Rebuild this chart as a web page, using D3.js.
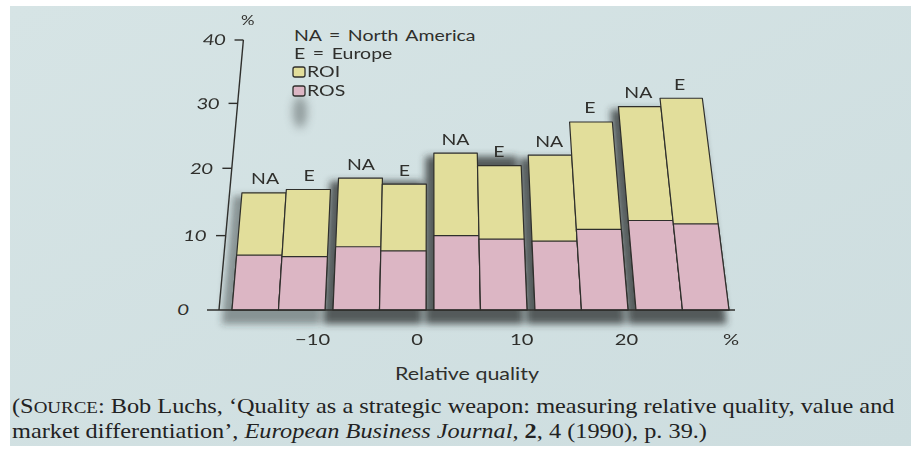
<!DOCTYPE html>
<html><head><meta charset="utf-8">
<script src="https://cdn.jsdelivr.net/npm/d3@7"></script>
<style>html,body{margin:0;padding:0;background:#fff}svg{display:block}</style>
</head><body>
<svg id="chart" width="911" height="451"></svg>
<script>
// Relative-quality bands (edges in %) and the two regions compared in each band
const binEdges = [-20, -10, 0, 10, 20, 30];
const regions = ["NA", "E"];
// Return on investment (full bar) and return on sales (lower bar), %
const roiNA = [16.3, 18.5, 22.3, 22.0, 29.5];
const roiE  = [16.8, 17.6, 20.4, 27.1, 30.8];
const rosNA = [7.2, 8.4, 10.0, 9.2, 12.2];
const rosE  = [7.0, 7.8, 9.5, 10.9, 11.7];
const yTicks = [0, 10, 20, 30, 40];
const xTicks = [-10, 0, 10, 20];
const xTickLabels = ["\u221210", "0", "10", "20"];
const legendLines = ["NA = North America", "E = Europe"];
const legendKeys = ["ROI", "ROS"];

const svg = d3.select("#chart");
const ink = "#2f2f2c";
const colROI = "#e2de9b", colROS = "#dcb6c4";
const sans = "Lato, 'Open Sans', sans-serif";
const wide = 1.3; // horizontal stretch of the humanist sans lettering

// page tint and blur filters
const defs = svg.append("defs");
const bg = defs.append("linearGradient").attr("id", "bg").attr("x1", 0).attr("y1", 0).attr("x2", 1).attr("y2", 1);
bg.append("stop").attr("offset", 0).attr("stop-color", "#d6e4e5");
bg.append("stop").attr("offset", 1).attr("stop-color", "#cddddf");
defs.append("filter").attr("id", "soft").attr("x", "-20%").attr("y", "-20%").attr("width", "140%").attr("height", "140%")
  .append("feGaussianBlur").attr("stdDeviation", 3.5);
defs.append("filter").attr("id", "softer").attr("x", "-80%").attr("y", "-50%").attr("width", "260%").attr("height", "200%")
  .append("feGaussianBlur").attr("stdDeviation", 5);
svg.append("rect").attr("x", 10).attr("y", 6).attr("width", 901).attr("height", 440).attr("fill", "url(#bg)");

// scales
const x = d3.scaleLinear().domain([-20, 30]).range([228, 733]);
const y = d3.scalePow().exponent(0.93).domain([0, 40]).range([310, 40]);
const labelX = x.copy().range([208, 731]);
const baseY = y(0);

// slight keystone: verticals lean toward a centre line as they rise
const vx = 432, k = 0.000424;
const proj = (px, py) => [px - (px - vx) * k * (baseY - py), py];
const quad = (x0, x1, y0, y1) => {
  const p = [proj(x0, y0), proj(x1, y0), proj(x1, y1), proj(x0, y1)];
  return "M" + p.map(d => d.join(",")).join("L") + "Z";
};

// stretched sans label helper
function label(sel, px, py, txt, size, anchor, skew) {
  return sel.append("text")
    .attr("transform", `translate(${px},${py}) scale(${wide},1)` + (skew ? ` skewX(${skew})` : ""))
    .attr("text-anchor", anchor || "start").attr("dy", "0.36em")
    .attr("font-family", sans).attr("font-size", size).attr("fill", ink).text(txt);
}

// group layout
const groups = d3.range(binEdges.length - 1).map(i => ({
  i,
  x0: x(binEdges[i]) + 4,
  x1: x(binEdges[i + 1]) - 4,
  bars: [
    { region: "NA", roi: roiNA[i], ros: rosNA[i] },
    { region: "E", roi: roiE[i], ros: rosE[i] }
  ]
}));

// shadows cast to the left of each group and below the baseline
svg.append("g").attr("filter", "url(#soft)")
  .selectAll("path").data(groups).join("path")
  .attr("d", g => quad(g.x0 - 9, g.x1 - 4, baseY + 14, y(g.bars[0].roi) + 3))
  .attr("fill", "#2f3636").attr("opacity", (g, i) => i === 0 ? 0.45 : 0.78);

// blurred smudge beneath the legend
svg.append("ellipse").attr("cx", 300).attr("cy", 112).attr("rx", 7).attr("ry", 16)
  .attr("fill", "#4d5555").attr("opacity", 0.5).attr("filter", "url(#softer)");

// bars
const gBars = svg.append("g");
groups.forEach(g => {
  const sub = d3.scaleBand().domain(regions).range([g.x0, g.x1]);
  g.bars.forEach(b => {
    const bx0 = sub(b.region), bx1 = bx0 + sub.bandwidth();
    gBars.append("path").attr("d", quad(bx0, bx1, baseY, y(b.roi)))
      .attr("fill", colROI).attr("stroke", ink).attr("stroke-width", 1.2).attr("stroke-linejoin", "round");
    gBars.append("path").attr("d", quad(bx0, bx1, baseY, y(b.ros)))
      .attr("fill", colROS).attr("stroke", ink).attr("stroke-width", 1.2).attr("stroke-linejoin", "round");
    const [lx, ly] = proj((bx0 + bx1) / 2, y(b.roi) - 14);
    label(gBars, lx, ly, b.region, 15, "middle");
  });
});

// y axis
const axisX = 219;
const yAx = svg.append("g");
const [ax0, ay0] = proj(axisX, baseY), [ax1, ay1] = proj(axisX, y(40));
yAx.append("line").attr("x1", ax0).attr("y1", ay0).attr("x2", ax1).attr("y2", ay1)
  .attr("stroke", ink).attr("stroke-width", 1.4);
yTicks.filter(v => v > 0).forEach(v => {
  const [t0x, t0y] = proj(axisX - 10, y(v)), [t1x, t1y] = proj(axisX, y(v));
  yAx.append("line").attr("x1", t0x).attr("y1", t0y).attr("x2", t1x).attr("y2", t1y)
    .attr("stroke", ink).attr("stroke-width", 1.4);
});
yTicks.forEach(v => {
  const [tx, ty] = proj(axisX - 20 - (v === 0 ? 10 : 0), y(v));
  label(yAx, tx, ty, v, 15, "end", -5);
});
{
  const [px, py] = proj(axisX + 3, y(40) - 20);
  label(yAx, px, py, "%", 13, "middle");
}

// baseline
svg.append("line").attr("x1", 207).attr("y1", baseY).attr("x2", x(30) + 2).attr("y2", baseY)
  .attr("stroke", ink).attr("stroke-width", 1.5);

// x tick labels at band edges
const xAx = svg.append("g");
xTicks.forEach((v, i) => label(xAx, labelX(v), 339, xTickLabels[i], 15.5, "middle"));
label(xAx, labelX(30), 339, "%", 15.5, "middle");
label(svg, 467, 374, "Relative quality", 16.5, "middle");

// legend
const lg = svg.append("g");
legendLines.forEach((t, i) => label(lg, 294, 36 + i * 18, t, 15).attr("word-spacing", 2));
legendKeys.forEach((t, i) => {
  const cy = 72 + i * 19;
  lg.append("rect").attr("x", 293).attr("y", cy - 5).attr("width", 12).attr("height", 10).attr("rx", 2)
    .attr("fill", i === 0 ? colROI : colROS).attr("stroke", ink).attr("stroke-width", 1.3);
  label(lg, 307, cy, t, 15);
});

// source note
const serif = "'Liberation Serif', 'DejaVu Serif', serif";
const fs = 20.5;
const cap = svg.append("g").attr("font-family", serif).attr("font-size", fs).attr("fill", "#222");
const l1 = cap.append("text").attr("x", 0).attr("y", 0);
l1.append("tspan").text("(S");
l1.append("tspan").attr("font-size", fs * 0.78).text("OURCE");
l1.append("tspan").text(": Bob Luchs, \u2018Quality as a strategic weapon: measuring relative quality, value and");
const l2 = cap.append("text").attr("x", 0).attr("y", 25);
l2.append("tspan").text("market differentiation\u2019, ");
l2.append("tspan").attr("font-style", "italic").text("European Business Journal");
l2.append("tspan").text(", ");
l2.append("tspan").attr("font-weight", "bold").text("2");
l2.append("tspan").text(", 4 (1990), p. 39.)");
// fit the note so the first line spans the text block
const sx = 883 / l1.node().getComputedTextLength();
cap.attr("transform", `translate(12,413) scale(${sx},1)`);
</script>
</body></html>
